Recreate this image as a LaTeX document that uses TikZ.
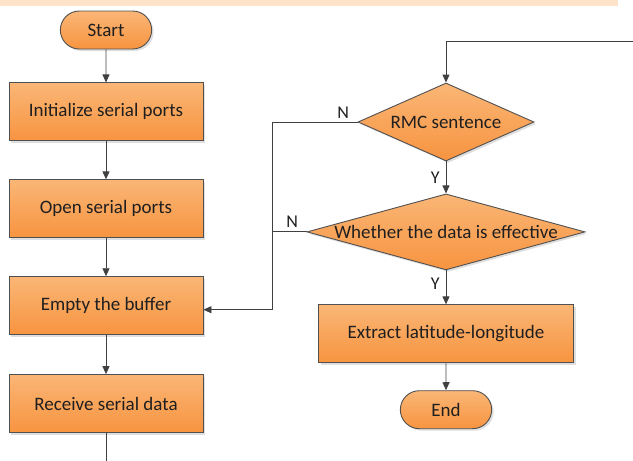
\documentclass[tikz,border=0pt]{standalone}
\usepackage{fontspec}
\setmainfont{Carlito}
\usepackage{xcolor}
\definecolor{cTop}{HTML}{FAB676}
\definecolor{cBot}{HTML}{F79440}
\definecolor{cEdge}{HTML}{505050}
\definecolor{cLine}{HTML}{404040}
\definecolor{cText}{HTML}{1F1F1F}
\definecolor{cBand}{HTML}{FDE3C8}
\usepackage{tikz}
\usetikzlibrary{positioning,arrows.meta,shapes.geometric,shapes.misc,shadows}
\tikzset{
  node-base/.style={draw=cEdge,line width=0.9pt,top color=cTop,bottom color=cBot,
    text=cText,align=center,font=\fontsize{19pt}{22pt}\selectfont,
    drop shadow={shadow xshift=2pt,shadow yshift=-2pt,opacity=0.25}},
  node-proc/.style={node-base,rectangle,minimum width=194pt,minimum height=58pt},
  node-term/.style={node-base,rounded rectangle,minimum width=98pt,minimum height=38pt},
  node-cond/.style={node-base,diamond,inner sep=-3pt},
  arrow/.style={-{Triangle[length=8pt,width=7pt]},line width=0.9pt,draw=cLine},
  line-plain/.style={line width=0.9pt,draw=cLine},
  lbl-branch/.style={font=\fontsize{18pt}{20pt}\selectfont,text=cText,inner sep=2pt},
}

\begin{document}
\begin{tikzpicture}[x=1pt,y=-1pt]
  \useasboundingbox (0,0) rectangle (633,461);
  \fill[cBand] (0,0) rectangle (618,6);
  % left column
  \node[node-term] (start) at (106,30) {Start};
  \node[node-proc,below=33pt of start] (init) {Initialize serial ports};
  \node[node-proc,below=38pt of init]  (open) {Open serial ports};
  \node[node-proc,below=38pt of open]  (empty) {Empty the buffer};
  \node[node-proc,below=39pt of empty] (recv) {Receive serial data};
  % right column
  \node[node-cond,minimum width=176pt,minimum height=78pt,aspect=2.26] (rmc) at (446,122) {RMC sentence};
  \node[node-cond,minimum width=278pt,minimum height=76pt,aspect=3.66,below=32pt of rmc] (valid) {Whether the data is effective};
  \node[node-proc,minimum width=255pt,below=34pt of valid] (extract) {Extract latitude-longitude};
  \node[node-term,below=27pt of extract] (end) {End};
  \coordinate (in)   at (633,41);
  \coordinate (out)  at (106,461);
  \coordinate (bus)  at (272,122);
  \draw[arrow] (start) -- (init);
  \draw[arrow] (init)  -- (open);
  \draw[arrow] (open)  -- (empty);
  \draw[arrow] (empty) -- (recv);
  \draw[line-plain] (recv) -- (out);
  \draw[arrow] (in) -| (rmc.north);
  \draw[arrow] (rmc) -- node[lbl-branch,left=4pt] {Y} (valid);
  \draw[arrow] (valid) -- node[lbl-branch,left=4pt,pos=0.4] {Y} (extract);
  \draw[arrow] (extract) -- (end);
  \draw[line-plain] (rmc.west) node[lbl-branch,above left=1pt and 6pt] {N} -- (bus);
  \draw[line-plain] (valid.west) node[lbl-branch,above left=2pt and 6pt] {N} -- (valid.west -| bus);
  \draw[arrow] (bus) |- ([yshift=-4pt]empty.east);
\end{tikzpicture}
\end{document}
